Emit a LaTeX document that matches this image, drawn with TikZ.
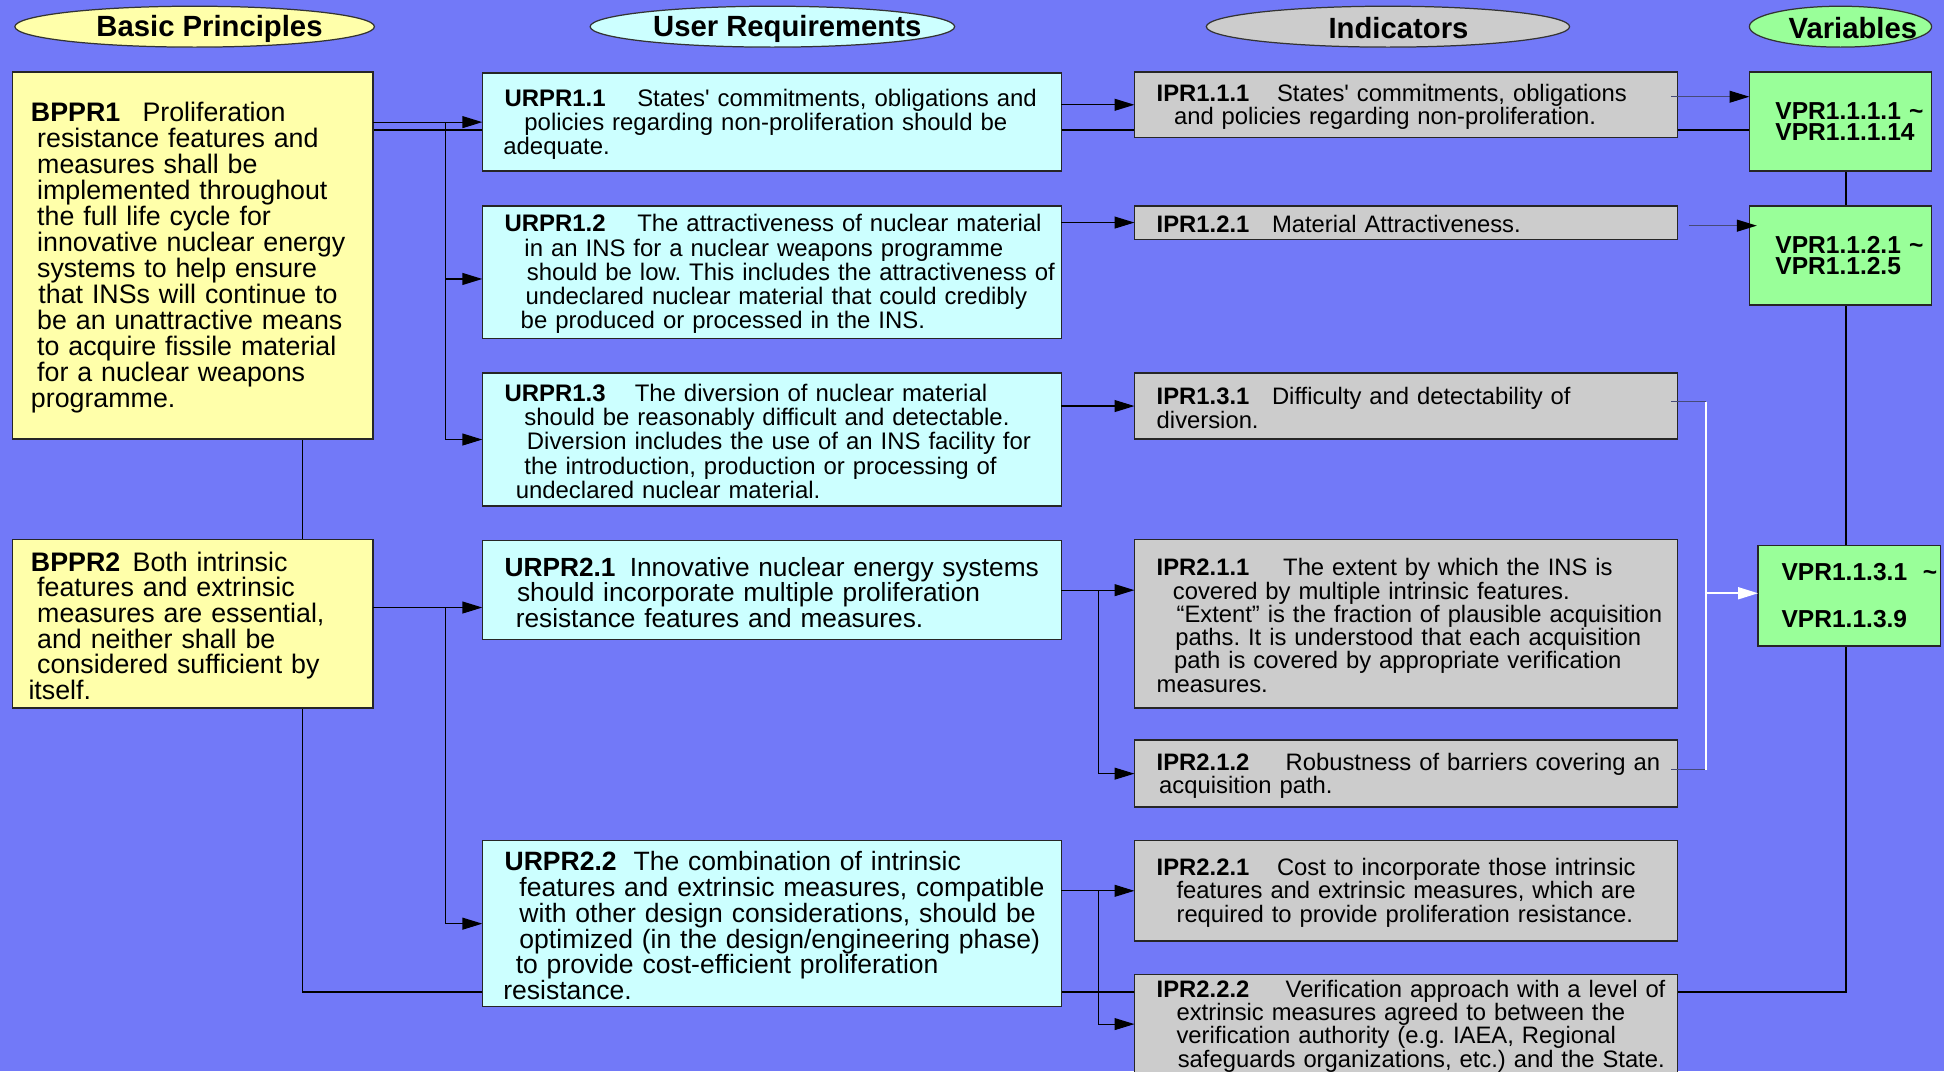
\documentclass[tikz,border=0pt]{standalone}
\usepackage{fontspec}
\setmainfont{Liberation Sans}
\usetikzlibrary{arrows.meta,shapes.geometric,calc}
\definecolor{bgblue}{RGB}{114,121,248}
\definecolor{bpyellow}{RGB}{255,255,170}
\definecolor{urcyan}{RGB}{204,255,255}
\definecolor{ipgray}{RGB}{204,204,204}
\definecolor{vpgreen}{RGB}{153,255,153}
\definecolor{slate}{RGB}{70,74,120}
\pgfdeclarelayer{bglayer}
\pgfdeclarelayer{linelayer}
\pgfsetlayers{bglayer,linelayer,main}
\frenchspacing
\newcommand\Lh[4]{\mbox{\rule{0pt}{0.88em}\hspace*{#1pt}\makebox[#2pt][l]{\bfseries #3}#4}}
\newcommand\Lx[2]{\mbox{\hspace*{#1pt}#2}}
\newcommand\apos{\textquotesingle}
\tikzset{
  box/.style={draw=black!85, line width=0.6pt, rectangle, anchor=north west,
    inner sep=0pt, outer sep=0pt, align=left},
  wh/.style 2 args={minimum width=#1pt, text width=#1pt, minimum height=#2pt},
  bpbox/.style={box, fill=bpyellow},
  urbox/.style={box, fill=urcyan},
  ipbox/.style={box, fill=ipgray, font=\fontsize{9.6}{9.4}\selectfont},
  vpbox/.style={box, fill=vpgreen, font=\bfseries\fontsize{9.9}{8.75}\selectfont},
  hdr/.style={ellipse, draw=black!80, line width=0.5pt, inner sep=0pt, minimum height=16.5pt},
  hdrtxt/.style={inner sep=0pt, font=\bfseries\fontsize{11.8}{12}\selectfont},
  arr/.style={line width=0.45pt, draw=black, -{Triangle[length=8pt,width=4.8pt]}},
  slarr/.style={line width=0.45pt, draw=slate, -{Triangle[length=8pt,width=4.8pt,color=black]}},
  warr/.style={line width=0.7pt, draw=white, -{Triangle[length=8pt,width=4.8pt]}},
  wline/.style={line width=0.7pt, draw=white},
  stub/.style={line width=0.45pt, draw=slate},
  bb/.style={line width=0.65pt, draw=black}
}
\begin{document}
\begin{tikzpicture}[x=0.5pt,y=-0.5pt]
\useasboundingbox (0,0) rectangle (1568,864);
\begin{pgfonlayer}{bglayer}
  \fill[bgblue] (0,0) rectangle (1568,864);
\end{pgfonlayer}

% headers
\node[hdr, fill=bpyellow, minimum width=145pt] (hbp) at (157,21.5) {};
\node[hdrtxt] (hbpt) at (169,23) {Basic Principles};
\node[hdr, fill=urcyan, minimum width=147pt] (hur) at (623,21.5) {};
\node[hdrtxt] (hurt) at (635,23) {User Requirements};
\node[hdr, fill=ipgray, minimum width=146.5pt] (hin) at (1119.5,21.5) {};
\node[hdrtxt] (hint) at (1128,22.5) {Indicators};
\node[hdr, fill=vpgreen, minimum width=73.5pt] (hva) at (1484.5,21.5) {};
\node[hdrtxt] (hvat) at (1494.5,22.5) {Variables};

% basic principles
\node[bpbox, wh={145.5}{148}, font=\fontsize{10.8}{10.5}\selectfont] (b1) at (10,58) {%
\Lh{7.5}{45}{BPPR1}{Proliferation}\\
\Lx{10}{resistance features and}\\
\Lx{10}{measures shall be}\\
\Lx{10}{implemented throughout}\\
\Lx{10}{the full life cycle for}\\
\Lx{10}{innovative nuclear energy}\\
\Lx{10}{systems to help ensure}\\
\Lx{10.5}{that INSs will continue to}\\
\Lx{10}{be an unattractive means}\\
\Lx{10}{to acquire fissile material}\\
\Lx{10}{for a nuclear weapons}\\
\Lx{7.5}{programme.}};
\node[bpbox, wh={145.5}{68}, font=\fontsize{10.8}{10.3}\selectfont] (b2) at (10,435) {%
\Lh{7.5}{41}{BPPR2}{Both intrinsic}\\
\Lx{10}{features and extrinsic}\\
\Lx{10}{measures are essential,}\\
\Lx{10}{and neither shall be}\\
\Lx{10}{considered sufficient by}\\
\Lx{6.5}{itself.}};

% user requirements
\node[urbox, wh={233.5}{39.5}, font=\fontsize{9.65}{9.75}\selectfont] (u11) at (389,59) {%
\Lh{9}{53.5}{URPR1.1}{States\apos{} commitments, obligations and}\\
\Lx{17}{policies regarding non-proliferation should be}\\
\Lx{8.5}{adequate.}};
\node[urbox, wh={233.5}{53.5}, font=\fontsize{9.65}{9.75}\selectfont] (u12) at (389,166) {%
\Lh{9}{53.5}{URPR1.2}{The attractiveness of nuclear material}\\
\Lx{17}{in an INS for a nuclear weapons programme}\\
\Lx{18}{should be low. This includes the attractiveness of}\\
\Lx{17.5}{undeclared nuclear material that could credibly}\\
\Lx{15.5}{be produced or processed in the INS.}};
\node[urbox, wh={233.5}{53.5}, font=\fontsize{9.65}{9.75}\selectfont] (u13) at (389,301) {%
\Lh{9}{52.5}{URPR1.3}{The diversion of nuclear material}\\
\Lx{17}{should be reasonably difficult and detectable.}\\
\Lx{18}{Diversion includes the use of an INS facility for}\\
\Lx{17}{the introduction, production or processing of}\\
\Lx{13.5}{undeclared nuclear material.}};
\node[urbox, wh={233.5}{40}, font=\fontsize{10.6}{10.25}\selectfont] (u21) at (389,436) {%
\Lh{9}{50.5}{URPR2.1}{Innovative nuclear energy systems}\\
\Lx{14}{should incorporate multiple proliferation}\\
\Lx{13.5}{resistance features and measures.}};
\node[urbox, wh={233.5}{67}, font=\fontsize{10.7}{10.4}\selectfont] (u22) at (389,678) {%
\Lh{9}{52}{URPR2.2}{The combination of intrinsic}\\
\Lx{15}{features and extrinsic measures, compatible}\\
\Lx{15}{with other design considerations, should be}\\
\Lx{15}{optimized (in the design/engineering phase)}\\
\Lx{13.5}{to provide cost-efficient proliferation}\\
\Lx{8.5}{resistance.}};

% indicators
\node[ipbox, wh={219}{26.5}] (i111) at (915,58) {%
\Lh{9}{48.5}{IPR1.1.1}{States\apos{} commitments, obligations}\\
\Lx{16}{and policies regarding non-proliferation.}};
\node[ipbox, wh={219}{13.5}] (i121) at (915,166) {%
\Lh{9}{46.5}{IPR1.2.1}{Material Attractiveness.}};
\node[ipbox, wh={219}{26.5}] (i131) at (915,301) {%
\Lh{9}{46.5}{IPR1.3.1}{Difficulty and detectability of}\\
\Lx{9}{diversion.}};
\node[ipbox, wh={219}{68}] (i211) at (915,435) {%
\Lh{9}{51}{IPR2.1.1}{The extent by which the INS is}\\
\Lx{15.5}{covered by multiple intrinsic features.}\\
\Lx{17}{“Extent” is the fraction of plausible acquisition}\\
\Lx{16.5}{paths. It is understood that each acquisition}\\
\Lx{16}{path is covered by appropriate verification}\\
\Lx{9}{measures.}};
\node[ipbox, wh={219}{27}] (i212) at (915,597) {%
\Lh{9}{52}{IPR2.1.2}{Robustness of barriers covering an}\\
\Lx{10}{acquisition path.}};
\node[ipbox, wh={219}{40.5}] (i221) at (915,678) {%
\Lh{9}{48.5}{IPR2.2.1}{Cost to incorporate those intrinsic}\\
\Lx{17}{features and extrinsic measures, which are}\\
\Lx{17}{required to provide proliferation resistance.}};
\node[ipbox, wh={219}{40}] (i222) at (915,786) {%
\Lh{9}{52}{IPR2.2.2}{Verification approach with a level of}\\
\Lx{17}{extrinsic measures agreed to between the}\\
\Lx{17}{verification authority (e.g. IAEA, Regional}\\
\Lx{17.5}{safeguards organizations, etc.) and the State.}};

% variables
\node[vpbox, wh={73.5}{40}] (v111) at (1411,58) {%
\Lx{10.5}{VPR1.1.1.1 \textasciitilde}\\
\Lx{10.5}{VPR1.1.1.14}};
\node[vpbox, wh={73.5}{40}] (v112) at (1411,166) {%
\Lx{10.5}{VPR1.1.2.1 \textasciitilde}\\
\Lx{10.5}{VPR1.1.2.5}};
\node[vpbox, wh={73.5}{40.5}] (v113) at (1418,440) {%
\Lx{9.5}{\makebox[57pt][l]{VPR1.1.3.1}\textasciitilde}\\[10pt]
\Lx{9.5}{VPR1.1.3.9}};

% helper coordinates
\coordinate (yb) at (0,105);
\coordinate (xv) at (1489,0);
\coordinate (cb) at (244,800);
\coordinate (j1) at (359,98.5);
\coordinate (j2) at (359,490);
\coordinate (j3) at (886,476);
\coordinate (j4) at (886,718.5);
\coordinate (c1) at (1348,78);
\coordinate (c2) at (1362,182);
\coordinate (w1) at (1376,324);
\coordinate (w2) at (1376,621);

% backbone lines behind the boxes
\begin{pgfonlayer}{linelayer}
  \draw[bb] (b1.east |- yb) -- (v111.west |- yb);
  \draw[bb] (v111.south -| xv) -- (v112.north -| xv);
  \draw[bb] (v112.south -| xv) -- (v113.north -| xv);
  \draw[bb] (v113.south -| xv) |- (cb) -- (b1.south -| cb);
\end{pgfonlayer}

% principles -> requirements
\draw[arr] (b1.east |- u11.west) -- (u11.west);
\draw[arr] (j1) |- ([yshift=-2.75pt]u12.west);
\draw[arr] (j1) |- (u13.west);
\draw[arr] (b2.east |- j2) -- (u21.west |- j2);
\draw[arr] (j2) |- (u22.west);

% requirements -> indicators
\draw[arr] (u11.east |- i111.west) -- (i111.west);
\draw[arr] (u12.east |- i121.west) -- (i121.west);
\draw[arr] (u13.east |- i131.west) -- (i131.west);
\draw[arr] (u21.east) -- (i211.west |- u21.east);
\draw[arr] (j3) |- (i212.west);
\draw[arr] (u22.east |- i221.west) -- (i221.west);
\draw[arr] (j4) |- (i222.west);

% indicators -> variables
\draw[slarr] (c1) -- (v111.west |- c1);
\draw[slarr] (c2) -- ([xshift=3pt]v112.west |- c2);
\draw[stub] ([xshift=-2.5pt]i131.east |- w1) -- (w1);
\draw[stub] ([xshift=-2.5pt]i212.east |- w2) -- (w2);
\draw[wline] (w1) -- (w2);
\draw[warr] (w1 |- 0,478.5) -- (v113.west |- 0,478.5);
\end{tikzpicture}
\end{document}
